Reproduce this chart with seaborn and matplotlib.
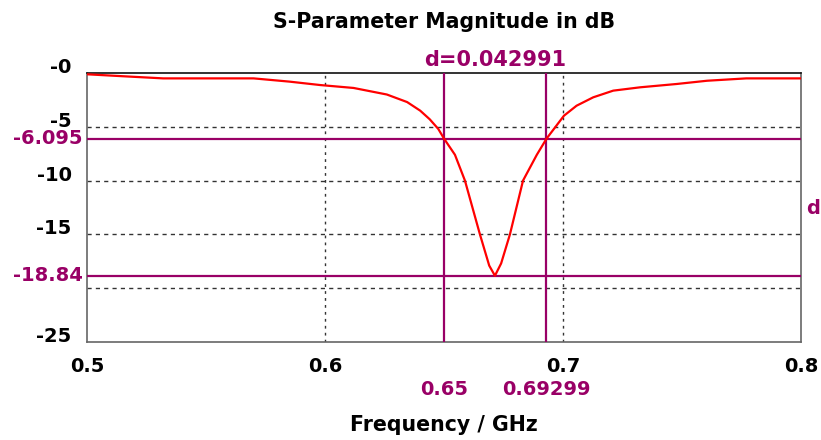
import matplotlib
matplotlib.use("Agg")
import matplotlib.pyplot as plt
import seaborn as sns
import pandas as pd

# S-parameter curve (GHz, dB)
freq = [0.5, 0.515, 0.532, 0.57, 0.585, 0.598, 0.612, 0.626, 0.6345, 0.64,
        0.644, 0.6476, 0.65, 0.6546, 0.6588, 0.6651, 0.6690, 0.6714, 0.6740,
        0.6777, 0.6832, 0.689, 0.6931, 0.7004, 0.7057, 0.7127, 0.7211,
        0.7324, 0.7478, 0.7605, 0.777, 0.8]
mag_db = [-0.12, -0.3, -0.5, -0.5, -0.8, -1.12, -1.39, -2.0, -2.7, -3.5,
          -4.3, -5.2, -6.095, -7.6, -10.0, -15.0, -17.9, -18.84, -17.7,
          -15.0, -10.0, -7.6, -6.095, -3.97, -3.04, -2.26, -1.64,
          -1.33, -1.02, -0.72, -0.5, -0.5]

# markers
marker_x = [0.65, 0.69299]
marker_x_labels = ["0.65", "0.69299"]
marker_y = [-6.095, -18.84]
marker_y_labels = ["-6.095", "-18.84"]
delta_x_label = "d=0.042991"

y_ticks = [0, -5, -10, -15, -20, -25]
y_tick_labels = ["-0", "-5", "-10", "-15", "", "-25"]
x_ticks = [0.5, 0.6, 0.7, 0.8]
x_tick_labels = ["0.5", "0.6", "0.7", "0.8"]

purple = "#990066"

sns.set_style("white")
plt.rcParams["font.family"] = ["DejaVu Sans"]
plt.rcParams["font.weight"] = "bold"
plt.rcParams["text.color"] = "black"
plt.rcParams["xtick.color"] = "black"
plt.rcParams["ytick.color"] = "black"
plt.rcParams["axes.labelcolor"] = "black"

fig = plt.figure(figsize=(8.21, 4.40), dpi=100)
ax = fig.add_axes([87 / 821, 1 - 342 / 440, 714 / 821, 269 / 440])

df = pd.DataFrame({"f": freq, "db": mag_db})
sns.lineplot(data=df, x="f", y="db", ax=ax, color="#ff0000", lw=1.6, zorder=4)

ax.set_xlim(0.5, 0.8)
ax.set_ylim(-25, 0)

# dotted grid
for gx in [0.6, 0.7]:
    ax.axvline(gx, color="#333333", lw=1, ls=(0, (2, 3)), zorder=1)
for gy in [-5, -10, -15, -20]:
    ax.axhline(gy, color="#333333", lw=1, ls=(0, (3, 3)), zorder=1)

# marker lines
for mx in marker_x:
    ax.axvline(mx, color=purple, lw=1.6, zorder=3)
for my in marker_y:
    ax.axhline(my, color=purple, lw=1.6, zorder=3)

ax.set_xticks(x_ticks)
ax.set_xticklabels(x_tick_labels, fontsize=14, fontweight="bold")
ax.set_yticks(y_ticks)
ax.set_yticklabels(y_tick_labels, fontsize=14, fontweight="bold", va="baseline")
ax.tick_params(axis="both", direction="out", length=7, width=1, color="#555555",
               labelcolor="black")
ax.tick_params(axis="x", pad=4)
ax.tick_params(axis="y", pad=4)

for s in ["left", "bottom", "right"]:
    ax.spines[s].set_color("#666666")
ax.spines["top"].set_color("#111111")
for s in ax.spines.values():
    s.set_linewidth(1.2)

# marker labels
tr_x = ax.get_xaxis_transform()
tr_y = ax.get_yaxis_transform()
for mx, lab in zip(marker_x, marker_x_labels):
    ax.text(mx, -0.175, lab, transform=tr_x, ha="center", va="center",
            color=purple, fontsize=14, fontweight="bold", clip_on=False)
for my, lab in zip(marker_y, marker_y_labels):
    ax.text(-0.006, my, lab, transform=tr_y, ha="right", va="center",
            color=purple, fontsize=14, fontweight="bold", clip_on=False)

ax.text(sum(marker_x) / 2, 1.05, delta_x_label, transform=tr_x, ha="center",
        va="center", color=purple, fontsize=15, fontweight="bold", clip_on=False)
# delta-y label at the right edge (only its start shows in the original)
fig.text(806 / 821, 1 - 208 / 440, "d", ha="left", va="center",
         color=purple, fontsize=14, fontweight="bold")

ax.set_xlabel("Frequency / GHz", fontsize=14.8, fontweight="bold", labelpad=28,
              color="black")
ax.set_ylabel("")
fig.text(444 / 821, 1 - 22 / 440, "S-Parameter Magnitude in dB", ha="center",
         va="center", fontsize=14.8, fontweight="bold", color="black")

fig.savefig("out.png", dpi=100)
